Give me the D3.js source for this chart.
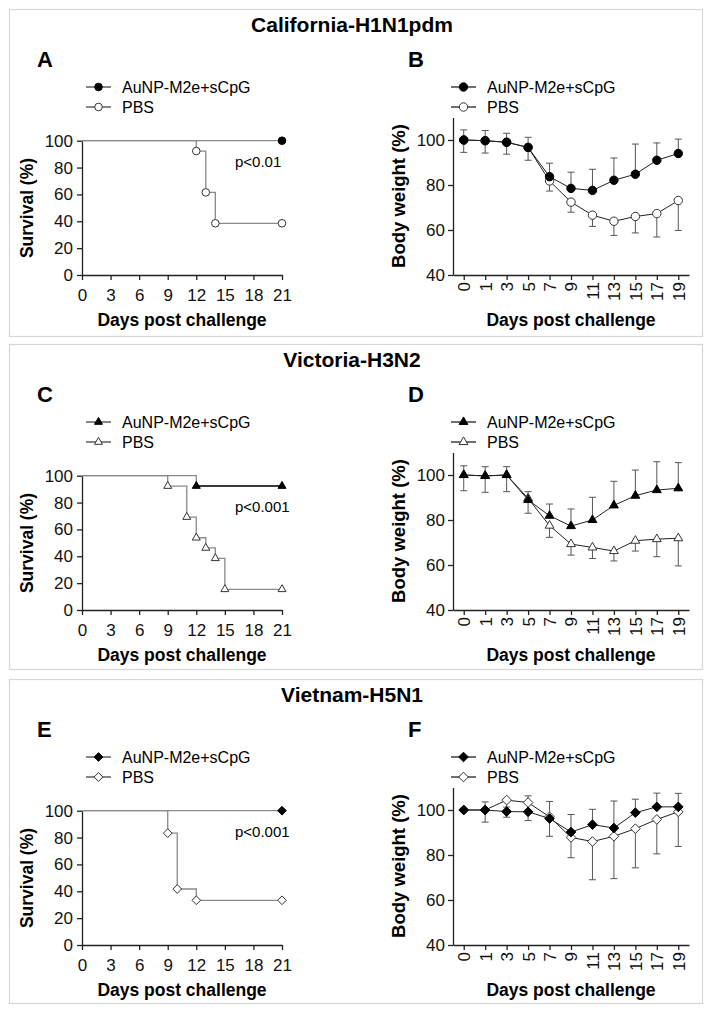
<!DOCTYPE html>
<html lang="en">
<head>
<meta charset="UTF-8">
<title>Survival and body weight after challenge</title>
<script src="https://cdn.jsdelivr.net/npm/d3@7"></script>
<style>
  body { margin: 0; background: #fff; }
  svg { display: block; font-family: "Liberation Sans", Arial, sans-serif; }
  .box { fill: none; stroke: #d6d6d6; stroke-width: 1.2; }
  .title { font-weight: bold; font-size: 21px; text-anchor: middle; }
  .letter { font-weight: bold; font-size: 22px; }
  .axis path, .axis line { stroke: #222; stroke-width: 1.3; }
  .axis text { font-size: 17px; fill: #111; font-family: "Liberation Sans", Arial, sans-serif; }
  .axtitle { font-weight: bold; font-size: 17.5px; text-anchor: middle; }
  .legend text { font-size: 16px; }
  .pval { font-size: 15px; }
</style>
</head>
<body>
<svg width="712" height="1015"></svg>
<script>
    var strains = ["California-H1N1pdm", "Victoria-H3N2", "Vietnam-H5N1"];
    var letters = [["A", "B"], ["C", "D"], ["E", "F"]];
    var groups = ["AuNP-M2e+sCpG", "PBS"];
    var pValues = ["p<0.01", "p<0.001", "p<0.001"];

    var survXTicks = [0, 3, 6, 9, 12, 15, 18, 21];
    var survYTicks = [0, 20, 40, 60, 80, 100];
    var weightDays = ["0", "1", "3", "5", "7", "9", "11", "13", "15", "17", "19"];
    var weightYTicks = [40, 60, 80, 100];

    // survival curves (day of event, % surviving)
    var survAVacDays = [0, 21];
    var survAVac = [100, 100];
    var survAPbsDays = [0, 12, 13, 14, 21];
    var survAPbs = [100, 92.3, 61.5, 38.5, 38.5];

    var survCVacDays = [0, 12, 21];
    var survCVac = [100, 92.3, 92.3];
    var survCPbsDays = [0, 9, 11, 12, 13, 14, 15, 21];
    var survCPbs = [100, 92.3, 69.2, 53.8, 46.2, 38.5, 15.4, 15.4];

    var survEVacDays = [0, 21];
    var survEVac = [100, 100];
    var survEPbsDays = [0, 9, 10, 12, 21];
    var survEPbs = [100, 83.3, 41.7, 33.3, 33.3];

    // body weight (% of day 0), error bars: vaccinated up, PBS down
    var weightBVac = [100, 99.7, 99, 96.7, 83.7, 78.5, 77.6, 82.1, 84.8, 91, 94];
    var weightBVacErr = [4.5, 4.5, 4, 4.5, 6, 7.2, 9.4, 9.9, 13.4, 7.7, 6.4];
    var weightBPbs = [100, 99.7, 99, 96.7, 81.8, 72.4, 66.6, 63.9, 66, 67.3, 73.1];
    var weightBPbsErr = [5.5, 5.5, 5.3, 5.7, 4.5, 4.5, 5, 6.3, 7.3, 10.4, 13.3];

    var weightDVac = [100, 99.6, 100, 88.9, 81.9, 77.3, 80, 86.5, 90.8, 93.3, 94.1];
    var weightDVacErr = [4.1, 4.1, 3.7, 3.7, 5.2, 7.6, 10.1, 10.7, 11.4, 12.6, 11.4];
    var weightDPbs = [100, 99.6, 100, 89.6, 77.5, 69.3, 67.8, 66.2, 70.8, 71.5, 71.9];
    var weightDPbsErr = [7, 7.3, 7.4, 6.6, 5.2, 4.9, 4.9, 4.4, 4.6, 7.8, 12.3];

    var weightFVac = [100, 100, 99.3, 99.2, 96.2, 90.2, 93.5, 92, 98.8, 101.4, 101.4];
    var weightFVacErr = [0, 3.6, 2, 7.1, 7.6, 7.8, 6.8, 12, 6, 6.1, 6];
    var weightFPbs = [100, 100, 104.4, 103.3, 97, 87.8, 86, 88.3, 91.7, 95.8, 99.2];
    var weightFPbsErr = [0, 5.4, 7.6, 8, 8.7, 9, 17, 18.8, 17.4, 15.3, 15.4];

    var rows = [
        {top: 0, boxH: 327, shape: "circle", pY: 167, darkVac: false,
            sv: [survAVacDays, survAVac], sp: [survAPbsDays, survAPbs],
            wv: [weightBVac, weightBVacErr], wp: [weightBPbs, weightBPbsErr]},
        {top: 335, boxH: 325, shape: "triangle", pY: 177, darkVac: true,
            sv: [survCVacDays, survCVac], sp: [survCPbsDays, survCPbs],
            wv: [weightDVac, weightDVacErr], wp: [weightDPbs, weightDPbsErr]},
        {top: 670, boxH: 324, shape: "diamond", pY: 167, darkVac: false,
            sv: [survEVacDays, survEVac], sp: [survEPbsDays, survEPbs],
            wv: [weightFVac, weightFVacErr], wp: [weightFPbs, weightFPbsErr]}
    ];

    var svg = d3.select("svg");

    function markerPath(shape, r) {
        if (shape === "circle") {
            return d3.symbol(d3.symbolCircle, Math.PI * r * r)();
        }
        if (shape === "triangle") {
            var s = r * 2.1, h = s * Math.sqrt(3) / 2;
            return "M0," + (-2 * h / 3) + "L" + (s / 2) + "," + (h / 3) + "L" + (-s / 2) + "," + (h / 3) + "Z";
        }
        var d = r * 1.15;
        return "M0," + (-d) + "L" + d + ",0L0," + d + "L" + (-d) + ",0Z";
    }

    function drawMarker(g, shape, r, x, y, filled) {
        g.append("path")
            .attr("d", markerPath(shape, r))
            .attr("transform", "translate(" + x + "," + y + ")")
            .attr("fill", filled ? "#000" : "#fff")
            .attr("stroke", filled ? "#000" : "#333")
            .attr("stroke-width", 1);
    }

    function drawLegend(g, x, shape, r, lineColor) {
        var lg = g.append("g").attr("class", "legend");
        groups.forEach(function (name, i) {
            var y = 87 + i * 20;
            lg.append("line")
                .attr("x1", x).attr("x2", x + 25)
                .attr("y1", y).attr("y2", y)
                .attr("stroke", lineColor).attr("stroke-width", 1.3);
            drawMarker(lg, shape, r, x + 12.5, y, i === 0);
            lg.append("text")
                .attr("x", x + 36).attr("y", y).attr("dy", "0.36em")
                .text(name);
        });
    }

    function drawSurvival(g, row, letter, pText) {
        var x = d3.scaleLinear().domain([0, 21]).range([82, 282]);
        var y = d3.scaleLinear().domain([0, 100]).range([275, 140.7]);

        g.append("text").attr("class", "letter").attr("x", 37).attr("y", 67).text(letter);
        drawLegend(g, 86, row.shape, 3.8, "#444");

        g.append("g").attr("class", "axis")
            .attr("transform", "translate(0,275)")
            .call(d3.axisBottom(x).tickValues(survXTicks).tickSize(5).tickSizeOuter(0).tickPadding(9));
        g.append("g").attr("class", "axis")
            .attr("transform", "translate(82,0)")
            .call(d3.axisLeft(y).tickValues(survYTicks).tickSize(5).tickSizeOuter(0).tickPadding(4));

        var line = d3.line()
            .x(function (d) { return x(d[0]); })
            .y(function (d) { return y(d[1]); })
            .curve(d3.curveStepAfter);

        var vac = d3.zip(row.sv[0], row.sv[1]);
        var pbs = d3.zip(row.sp[0], row.sp[1]);

        g.append("path").datum(vac).attr("d", line)
            .attr("fill", "none").attr("stroke", "#8a8a8a").attr("stroke-width", 1.3);
        if (row.darkVac) {
            g.append("path").datum(vac.slice(1)).attr("d", line)
                .attr("fill", "none").attr("stroke", "#3a3a3a").attr("stroke-width", 2);
        }
        g.append("path").datum(pbs).attr("d", line)
            .attr("fill", "none").attr("stroke", "#8a8a8a").attr("stroke-width", 1.3);

        pbs.slice(1).forEach(function (d) { drawMarker(g, row.shape, 3.8, x(d[0]), y(d[1]), false); });
        vac.slice(1).forEach(function (d) { drawMarker(g, row.shape, 3.8, x(d[0]), y(d[1]), true); });

        g.append("text").attr("class", "pval").attr("x", 235).attr("y", row.pY).text(pText);

        g.append("text").attr("class", "axtitle").attr("x", 182).attr("y", 326).text("Days post challenge");
        g.append("text").attr("class", "axtitle")
            .attr("transform", "translate(33,208) rotate(-90)")
            .text("Survival (%)");
    }

    function drawWeight(g, row, letter) {
        var x = d3.scalePoint().domain(weightDays).range([453, 689]).padding(0.5);
        var y = d3.scaleLinear().domain([40, 110]).range([275, 117.5]);

        g.append("text").attr("class", "letter").attr("x", 408).attr("y", 67).text(letter);
        drawLegend(g, 451, row.shape, 4.2, "#222");

        var xa = g.append("g").attr("class", "axis")
            .attr("transform", "translate(0,275)")
            .call(d3.axisBottom(x).tickSize(5).tickSizeOuter(0));
        xa.selectAll(".tick text")
            .attr("transform", "rotate(-90)")
            .attr("x", -7).attr("y", 0).attr("dy", "0.35em")
            .attr("text-anchor", "end");
        g.append("g").attr("class", "axis")
            .attr("transform", "translate(453,0)")
            .call(d3.axisLeft(y).tickValues(weightYTicks).tickSize(5).tickSizeOuter(0).tickPadding(3));

        var series = [
            {mean: row.wp[0], err: row.wp[1], dir: -1, filled: false},
            {mean: row.wv[0], err: row.wv[1], dir: 1, filled: true}
        ];

        series.forEach(function (s) {
            s.mean.forEach(function (m, i) {
                if (!s.err[i]) return;
                var cx = x(weightDays[i]), y1 = y(m), y2 = y(m + s.dir * s.err[i]);
                g.append("line").attr("x1", cx).attr("x2", cx).attr("y1", y1).attr("y2", y2)
                    .attr("stroke", "#555").attr("stroke-width", 1);
                g.append("line").attr("x1", cx - 3.5).attr("x2", cx + 3.5).attr("y1", y2).attr("y2", y2)
                    .attr("stroke", "#555").attr("stroke-width", 1);
            });
        });

        var line = d3.line()
            .x(function (d, i) { return x(weightDays[i]); })
            .y(function (d) { return y(d); });

        series.forEach(function (s) {
            g.append("path").datum(s.mean).attr("d", line)
                .attr("fill", "none").attr("stroke", "#222").attr("stroke-width", 1);
        });
        series.forEach(function (s) {
            s.mean.forEach(function (m, i) {
                drawMarker(g, row.shape, 4.2, x(weightDays[i]), y(m), s.filled);
            });
        });

        g.append("text").attr("class", "axtitle").attr("x", 571).attr("y", 326).text("Days post challenge");
        g.append("text").attr("class", "axtitle").style("font-size", "18.5px")
            .attr("transform", "translate(405,196) rotate(-90)")
            .text("Body weight (%)");
    }

    rows.forEach(function (row, r) {
        var g = svg.append("g").attr("transform", "translate(0," + row.top + ")");
        g.append("rect").attr("class", "box")
            .attr("x", 9.5).attr("y", 9.5).attr("width", 693).attr("height", row.boxH);
        g.append("text").attr("class", "title").attr("x", 352).attr("y", 32).text(strains[r]);
        drawSurvival(g, row, letters[r][0], pValues[r]);
        drawWeight(g, row, letters[r][1]);
    });
</script>
</body>
</html>
